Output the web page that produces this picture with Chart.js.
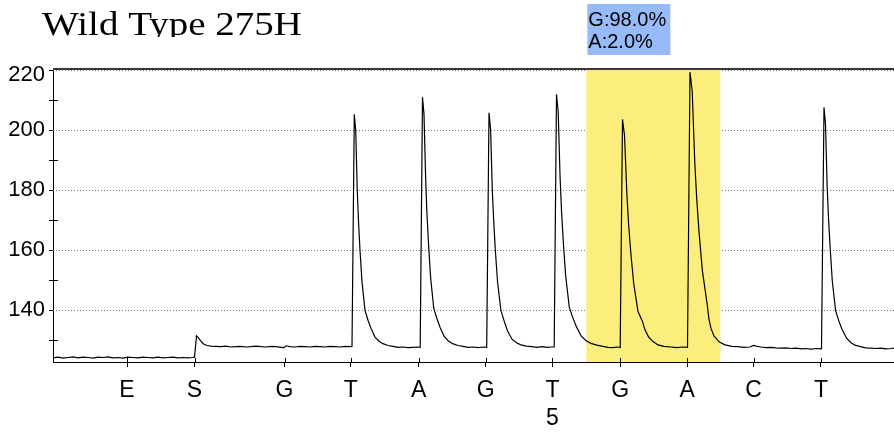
<!DOCTYPE html>
<html>
<head>
<meta charset="utf-8">
<script src="https://cdn.jsdelivr.net/npm/chart.js@4/dist/chart.umd.min.js"></script>
<style>
  html, body { margin: 0; padding: 0; background: #fff; }
  #wrap { width: 894px; height: 432px; position: relative; }
</style>
</head>
<body>
<div id="wrap"><canvas id="pyro"></canvas></div>
<script>
// pyrogram: Wild Type 275H
const title = 'Wild Type 275H';
const dispensations = ['E', 'S', 'G', 'T', 'A', 'G', 'T', 'G', 'A', 'C', 'T'];
const dispensationPos = [74, 141.5, 231.5, 297.8, 365.7, 432.6, 499.4, 567.3, 634.2, 700.5, 767.9];
const positionNumbers = { 6: '5' };
const highlight = [7, 8];           // dispensations inside the yellow band
const resultLines = ['G:98.0%', 'A:2.0%'];
const yTicks = [130, 140, 150, 160, 170, 180, 190, 200, 210, 220];
const yLabelled = [140, 160, 180, 200, 220];

const traceX = [
  0, 5, 10, 15, 20, 25, 30, 35, 40, 45, 50, 55, 60, 65, 70, 75, 80, 85, 90, 95,
  100, 105, 110, 115, 120, 125, 130, 135, 140, 141.5, 143.5, 145, 147, 149, 151, 154, 158,
  163, 168, 173, 178, 183, 188, 193, 198, 203, 208, 213, 218, 223, 228, 231, 233, 237,
  242, 247, 252, 257, 262, 267, 272, 277, 282, 287, 292, 296, 299,
  301.3, 302.7, 304.3, 305.5, 307, 309, 312, 315, 318, 322, 326, 330, 335, 340,
  345, 350, 355, 360, 364, 367.2,
  369.5, 371.0, 372.7, 373.9, 375.5, 377.6, 380.7, 383.9, 387.0, 391.2, 395.4, 399.6, 404.9, 410.1,
  415, 420, 425, 430, 433.7,
  436, 437.6, 439.3, 440.7, 442.3, 444.5, 447.9, 451.2, 454.5, 459, 463.4, 467.9, 473.4, 479,
  484, 489, 494, 498, 501.2,
  503.5, 505.2, 507.1, 508.5, 510.3, 512.7, 516.3, 519.9, 523.5, 528.3, 533.1, 537.9, 543.9, 549.9,
  555, 560, 564, 567.2,
  569.5, 571.5, 573.9, 575.6, 577.8, 580.7, 585, 589.4, 592, 595.5, 600, 605, 611, 618,
  624, 629, 634.5,
  637, 639.2, 641.8, 643.7, 646.1, 649.3, 654.1, 656, 658, 661, 666, 672, 679,
  685, 691, 697, 700.5, 703, 708, 713, 718, 723, 728, 733, 738, 743, 748, 753, 758, 763, 768.5,
  771, 772.5, 774.2, 775.5, 777.2, 779.3, 782.6, 785.8, 789, 793.4, 797.7, 802, 807.4, 812.8,
  818, 823, 828, 833, 838, 841
];
const traceY = [
  124.2, 124.4, 124.1, 124.3, 124.5, 124.2, 124.4, 124.3, 124.1, 124.4, 124.3, 124.5, 124.2, 124.3, 124.1, 124.4, 124.3, 124.2, 124.4, 124.3,
  124.2, 124.4, 124.2, 124.3, 124.4, 124.2, 124.3, 124.2, 124.3, 124.4, 131.5, 131.0, 130.2, 129.3, 128.7, 128.3, 128.1,
  128.0, 127.9, 128.1, 127.8, 127.9, 128.0, 127.8, 127.9, 128.1, 127.9, 127.8, 128.0, 127.9, 127.7, 127.6, 128.2, 127.9,
  127.8, 128.0, 127.9, 127.8, 128.0, 127.9, 127.8, 128.0, 127.9, 127.8, 128.0, 127.9, 128.0,
  205.3, 199.9, 179.7, 169.7, 160.0, 149.5, 140.0, 136.7, 134.0, 131.1, 129.7, 128.9, 128.3, 128.0,
  127.7, 127.8, 127.6, 127.7, 127.8, 127.7,
  211.0, 205.2, 183.5, 172.7, 162.3, 151.0, 140.8, 137.3, 134.4, 131.3, 129.8, 128.9, 128.3, 128.0,
  127.7, 127.8, 127.6, 127.8, 127.7,
  205.8, 200.3, 180.1, 169.9, 160.2, 149.6, 140.0, 136.4, 133.2, 130.4, 129.2, 128.5, 128.1, 127.9,
  127.7, 127.9, 127.7, 127.8, 127.8,
  212.0, 206.1, 184.2, 173.3, 162.7, 151.4, 141.0, 137.5, 134.5, 131.4, 129.9, 129.0, 128.4, 128.0,
  127.7, 127.6, 127.8, 127.6,
  203.6, 198.3, 178.6, 168.7, 159.2, 149.0, 139.6, 136.4, 133.5, 131.2, 129.6, 128.5, 128.0, 127.8,
  127.6, 127.8, 127.7,
  219.4, 213.0, 189.2, 177.3, 165.8, 153.4, 142.2, 137.0, 134.0, 131.5, 129.5, 128.5, 128.0,
  127.9, 127.7, 127.8, 128.3, 128.1, 127.8, 127.6, 127.7, 127.5, 127.4, 127.5, 127.3, 127.4, 127.2, 127.3, 127.1, 127.3, 127.2,
  207.6, 202.0, 181.1, 170.7, 160.6, 149.8, 139.9, 136.5, 133.7, 130.8, 129.3, 128.4, 127.9, 127.5,
  127.4, 127.3, 127.4, 127.2, 127.3, 127.4
];

const trace = traceX.map((x, i) => ({ x, y: traceY[i] }));
const yFont = '22px "Liberation Sans", Arial, sans-serif';

Chart.defaults.font.family = '"Liberation Sans", Arial, sans-serif';
Chart.defaults.color = '#000';

function line(ctx, x0, y0, x1, y1) {
  ctx.beginPath(); ctx.moveTo(x0, y0); ctx.lineTo(x1, y1); ctx.stroke();
}

const decor = {
  id: 'decor',
  beforeDatasetsDraw(chart) {
    const { ctx, chartArea: a, scales: { x, y } } = chart;
    ctx.save();
    // dotted grid lines
    ctx.strokeStyle = '#7a7a7a';
    ctx.lineWidth = 1;
    ctx.setLineDash([1, 2]);
    yLabelled.forEach(v => {
      const py = Math.round(y.getPixelForValue(v)) + 0.5;
      line(ctx, a.left, py, a.right, py);
    });
    ctx.setLineDash([]);
    // highlighted dispensations
    const x0 = x.getPixelForValue((dispensationPos[highlight[0] - 1] + dispensationPos[highlight[0]]) / 2);
    const x1 = x.getPixelForValue((dispensationPos[highlight[1]] + dispensationPos[highlight[1] + 1]) / 2);
    ctx.fillStyle = '#fcee7d';
    ctx.fillRect(x0, a.top, x1 - x0, a.bottom - a.top);
    // top frame line
    ctx.strokeStyle = '#3a3a3a';
    ctx.lineWidth = 2;
    line(ctx, a.left, a.top, a.right, a.top);
    ctx.restore();
  },
  afterDraw(chart) {
    const { ctx, chartArea: a, scales: { x, y } } = chart;
    ctx.save();
    // inner halves of tick marks
    ctx.strokeStyle = '#000';
    ctx.lineWidth = 1;
    dispensationPos.forEach(v => {
      const px = Math.round(x.getPixelForValue(v)) + 0.5;
      line(ctx, px, a.bottom - 4, px, a.bottom);
    });
    yTicks.filter(v => !yLabelled.includes(v)).forEach(v => {
      const py = Math.round(y.getPixelForValue(v)) + 0.5;
      line(ctx, a.left, py, a.left + 5, py);
    });

    // top y label sits a little lower, as in the original print
    ctx.fillStyle = '#000';
    ctx.font = yFont;
    ctx.textAlign = 'right';
    ctx.textBaseline = 'middle';
    ctx.fillText('220', a.left - 8, y.getPixelForValue(220) + 5);
    ctx.textAlign = 'left';

    // title, clipped at the top of the picture
    ctx.save();
    ctx.beginPath();
    ctx.rect(0, 0, chart.width, 37);
    ctx.clip();
    ctx.font = '33px "Liberation Serif", "Times New Roman", serif';
    ctx.textBaseline = 'alphabetic';
    const w = ctx.measureText(title).width;
    ctx.translate(42, 35);
    ctx.scale(260 / w, 1);
    ctx.fillText(title, 0, 0);
    ctx.restore();

    // result box above the band
    const bx = x.getPixelForValue((dispensationPos[highlight[0] - 1] + dispensationPos[highlight[0]]) / 2) + 1;
    ctx.fillStyle = '#97bbf8';
    ctx.fillRect(bx, 4, 83, 51);
    ctx.fillStyle = '#000';
    ctx.font = '20px "Liberation Sans", Arial, sans-serif';
    ctx.textBaseline = 'alphabetic';
    resultLines.forEach((t, i) => ctx.fillText(t, bx + 1, 26 + i * 22));
    ctx.restore();
  }
};

new Chart(document.getElementById('pyro'), {
  type: 'line',
  data: {
    datasets: [{
      data: trace,
      borderColor: '#000',
      borderWidth: 1.2,
      pointRadius: 0,
      tension: 0,
      fill: false
    }]
  },
  options: {
    responsive: true,
    maintainAspectRatio: false,
    animation: false,
    layout: { padding: { top: 69, right: 0, left: 0, bottom: 0 } },
    plugins: { legend: { display: false }, tooltip: { enabled: false } },
    scales: {
      x: {
        type: 'linear',
        min: 0,
        max: 841,
        afterBuildTicks: s => { s.ticks = dispensationPos.map(v => ({ value: v })); },
        afterFit: s => { s.height = 70; },
        grid: { drawOnChartArea: false, tickLength: 5, tickColor: '#000' },
        border: { color: '#000', width: 1 },
        ticks: {
          autoSkip: false,
          maxRotation: 0,
          padding: 10,
          font: { family: '"Liberation Sans Narrow", "Liberation Sans", sans-serif', size: 23 },
          callback: (v, i) => positionNumbers[i] ? [dispensations[i], positionNumbers[i]] : dispensations[i]
        }
      },
      y: {
        min: 122.8,
        max: 220.4,
        afterBuildTicks: s => { s.ticks = yTicks.map(v => ({ value: v })); },
        afterFit: s => { s.width = 53; },
        grid: { drawOnChartArea: false, tickLength: 4, tickColor: '#000' },
        border: { color: '#000', width: 1 },
        ticks: {
          padding: 4,
          font: { size: 22 },
          callback: v => (yLabelled.includes(v) && v !== 220) ? String(v) : ''
        }
      }
    }
  },
  plugins: [decor]
});
</script>
</body>
</html>
